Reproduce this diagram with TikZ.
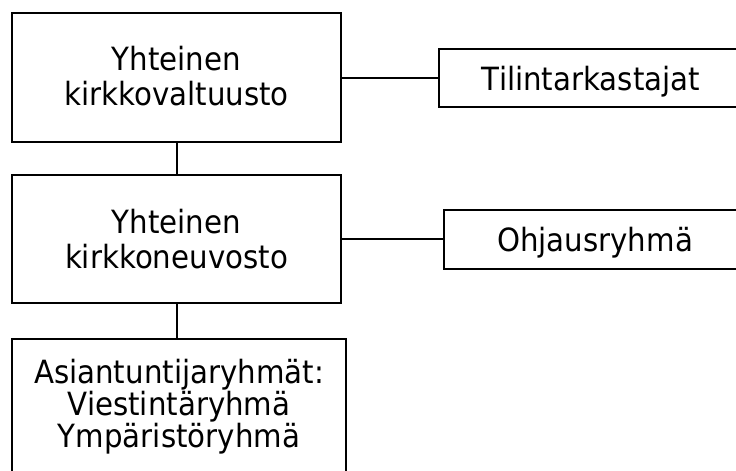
\documentclass[tikz,border=0pt]{standalone}
\usepackage{fontspec}
\setmainfont{DejaVu Sans}[FakeStretch=0.915]
\usepackage{tikz}
\usetikzlibrary{positioning}
\tikzset{box/.style={draw, line width=2pt, inner sep=0pt, align=center}}
\tikzset{link/.style={line width=2pt}}
\newcommand{\boxfont}{\fontsize{32}{35}\selectfont}
\newcommand{\listfont}{\fontsize{32}{29}\selectfont}

\begin{document}
\begin{tikzpicture}[x=1pt, y=-1pt]
\useasboundingbox[fill=white] (0,0) rectangle (736,471);
% main column
\node[box, minimum width=329pt, minimum height=129pt, text depth=4pt, font=\boxfont] (valt) at (176.5,77.5) {Yhteinen\\kirkkovaltuusto};
\node[box, minimum width=329pt, minimum height=128pt, font=\boxfont] (neuv) at (176.5,239) {Yhteinen\\kirkkoneuvosto};
\node[box, minimum width=334pt, minimum height=136pt, font=\listfont] (asia) at (179,407) {Asiantuntijaryhmät:\\Viestintäryhmä\\Ympäristöryhmä};
% side boxes
\node[box, minimum width=304pt, minimum height=58pt, text height=24pt, text depth=0pt, font=\boxfont] (tili) at (591,78) {Tilintarkastajat};
\node[box, minimum width=302pt, minimum height=59pt, text height=24pt, text depth=0pt, font=\boxfont] (ohja) at (595,239.5) {Ohjausryhmä};
\draw[link] (valt) -- (neuv);
\draw[link] (neuv.south) -- (neuv.south |- asia.north);
\draw[link] (valt.east) -- (valt.east -| tili.west);
\draw[link] (neuv.east) -- (neuv.east -| ohja.west);
\end{tikzpicture}
\end{document}
